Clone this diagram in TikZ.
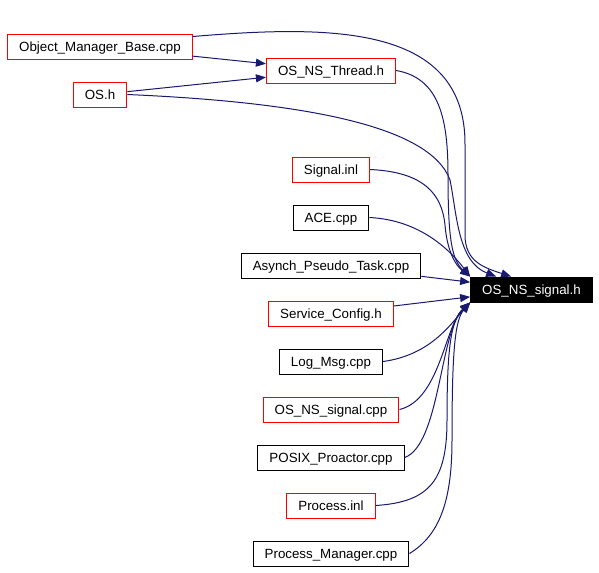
\documentclass[tikz,border=0pt]{standalone}
\usepackage{fontspec}
\setmainfont{Liberation Sans}
\usetikzlibrary{arrows.meta}
\definecolor{edgeblue}{HTML}{191970}
\tikzset{
    filebox/.style={draw=black, line width=0.75pt, fill=white, minimum height=18.75pt, inner xsep=8.7pt, inner ysep=0pt, text height=7.2pt, text depth=0.4pt, font=\fontsize{10pt}{12pt}\selectfont},
    redbox/.style={filebox, draw=red},
    mainbox/.style={filebox, fill=black, text=white},
    dep/.style={draw=edgeblue, line width=0.75pt, -{Triangle[length=7.5pt,width=6pt]}}
}

\begin{document}
\begin{tikzpicture}[x=0.75pt, y=-0.75pt]
            \useasboundingbox (0, 0) rectangle (599, 572);

            \node[redbox] (objmgr) at (100, 46.5) {Object\_Manager\_Base.cpp};
            \node[redbox] (thread) at (331, 70.5) {OS\_NS\_Thread.h};
            \node[redbox] (osh) at (100, 94.5) {OS.h};
            \node[redbox] (signalinl) at (331, 169.5) {Signal.inl};
            \node[filebox] (ace) at (331, 217.5) {ACE.cpp};
            \node[filebox] (asynch) at (331, 265.5) {Asynch\_Pseudo\_Task.cpp};
            \node[redbox] (svcconf) at (331, 313.5) {Service\_Config.h};
            \node[filebox] (logmsg) at (331, 361.5) {Log\_Msg.cpp};
            \node[redbox] (nssigcpp) at (331, 409.5) {OS\_NS\_signal.cpp};
            \node[filebox] (posix) at (331, 457.5) {POSIX\_Proactor.cpp};
            \node[redbox] (procinl) at (331, 505.5) {Process.inl};
            \node[filebox] (procmgr) at (331, 553.5) {Process\_Manager.cpp};

            \node[mainbox] (sig) at (531.5, 289.5) {OS\_NS\_signal.h};

            \draw[dep] (objmgr) -- (thread);
            \draw[dep] (osh) -- (thread);

            \draw[dep] ([yshift=-2.25pt]objmgr.north east) .. controls (330, 25) and (466, 24) .. (465, 145) -- (465, 235) .. controls (465, 262) and (485, 268) .. ([xshift=30.75pt]sig.north west);
            \draw[dep] (osh.east) .. controls (300, 102) and (430, 125) .. (450, 180) .. controls (457, 215) and (458, 262) .. ([xshift=19.5pt]sig.north west);
            \draw[dep] (thread.east) .. controls (440, 78) and (448, 120) .. (448, 175) .. controls (448, 240) and (452, 260) .. (sig.north west);
            \draw[dep] (signalinl.east) .. controls (425, 172) and (442, 195) .. (445, 225) .. controls (447, 250) and (455, 265) .. (sig.north west);
            \draw[dep] (ace.east) .. controls (420, 220) and (450, 250) .. (sig.north west);

            \draw[dep] (asynch) -- (sig);
            \draw[dep] (svcconf) -- (sig);

            \draw[dep] (logmsg.east) .. controls (430, 355) and (450, 325) .. (sig.south west);
            \draw[dep] (nssigcpp.east) .. controls (440, 400) and (445, 325) .. (sig.south west);
            \draw[dep] (posix.east) .. controls (440, 445) and (440, 330) .. (sig.south west);
            \draw[dep] (procinl.east) .. controls (430, 502) and (447, 480) .. (447, 420) .. controls (447, 340) and (452, 320) .. (sig.south west);
            \draw[dep] (procmgr.east) .. controls (440, 535) and (452, 500) .. (452, 440) .. controls (452, 350) and (455, 320) .. (sig.south west);

        \end{tikzpicture}
\end{document}
